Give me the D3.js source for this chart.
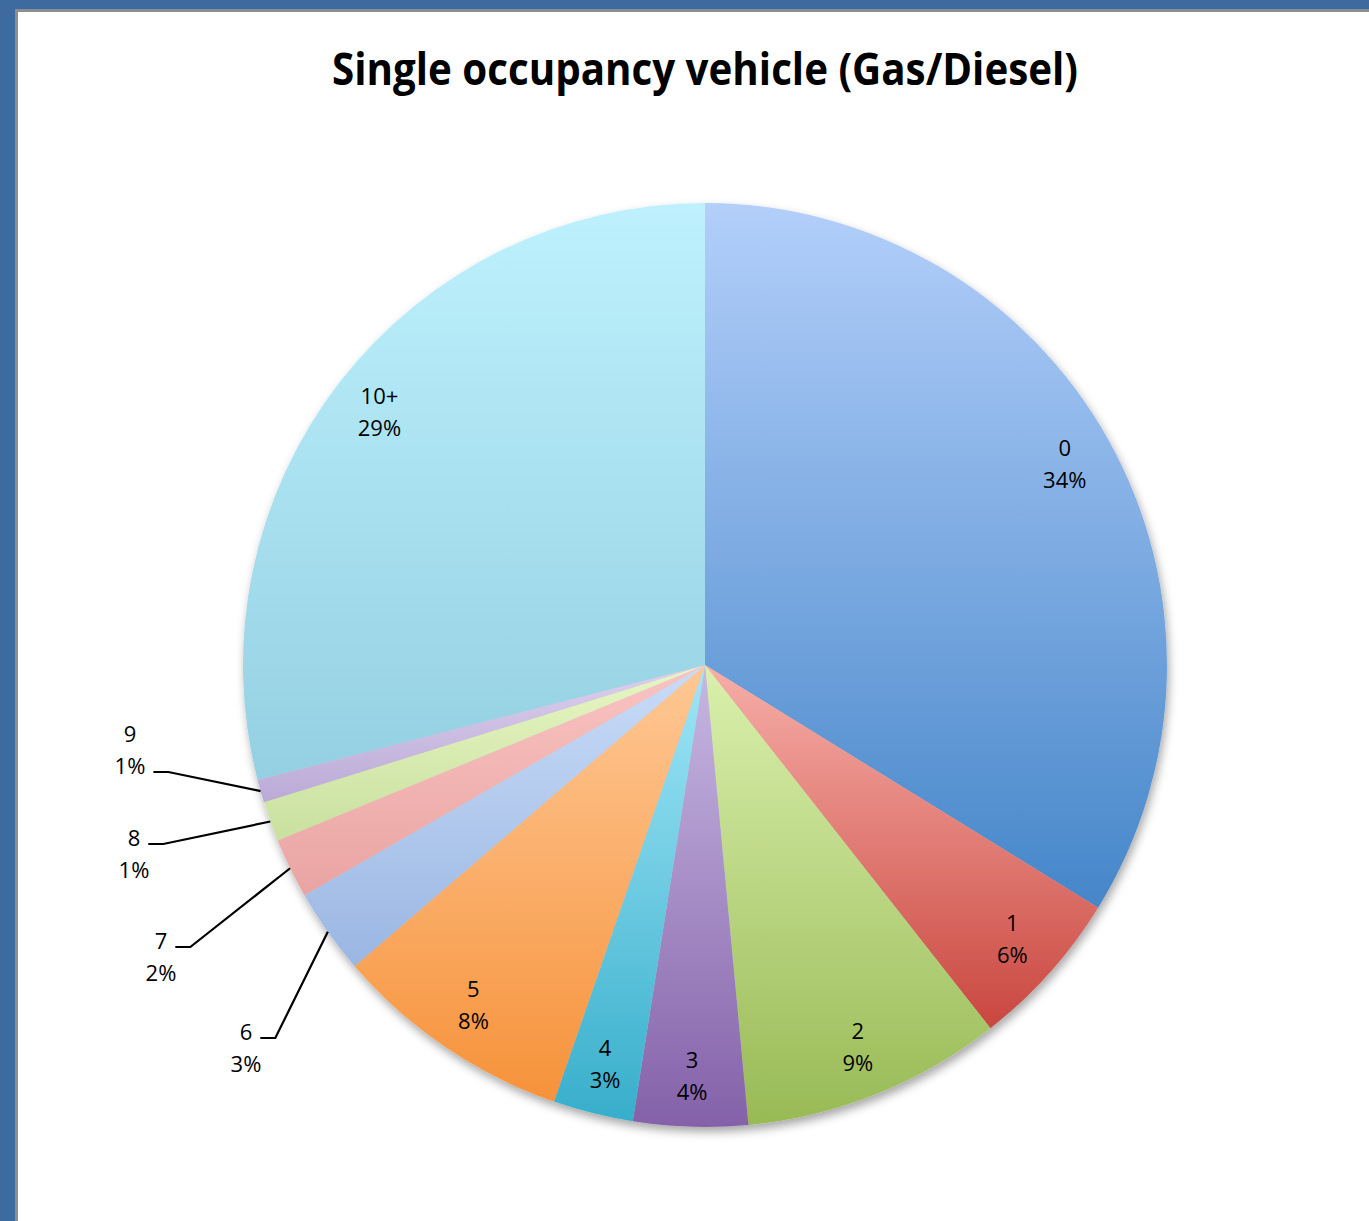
<!DOCTYPE html>
<html>
<head>
<meta charset="utf-8">
<script src="https://cdn.jsdelivr.net/npm/d3@7"></script>
<style>
  html, body { margin: 0; padding: 0; background: #3d6a9f; }
  svg { display: block; }
</style>
</head>
<body>
<div id="chart"></div>
<script>
// Data (share of respondents, %)
const categories = ["0", "1", "2", "3", "4", "5", "6", "7", "8", "9", "10+"];
const shares = [33.8, 5.6, 9.1, 4.0, 2.8, 8.4, 3.0, 2.1, 1.4, 0.8, 29.0];
const topColors = ["#b3cffa", "#f7aea8", "#daf0ad", "#c7b8e2", "#a0e6f7", "#ffc895",
                   "#c9dcf8", "#f9c4c2", "#e7f6c4", "#ddd0ee", "#bef1fd"];
const bottomColors = ["#4586c9", "#c9473f", "#98ba55", "#8461a9", "#37aecb", "#f6923a",
                      "#9ab6e2", "#e9a4a2", "#c9e09f", "#baaad6", "#94d0e2"];
const title = "Single occupancy vehicle (Gas/Diesel)";

// Labels that sit outside the pie with a leader line (label block centre, which row the leader meets)
const outsideLabels = {
    "9": { x: 130, y: 734, row: 1 },
    "8": { x: 134, y: 838, row: 0 },
    "7": { x: 161, y: 941, row: 0 },
    "6": { x: 246, y: 1032, row: 0 }
};

const W = 1369, H = 1221;
const cx = 705, cy = 665, radius = 462;

const svg = d3.select("#chart")
    .append("svg")
    .attr("width", W)
    .attr("height", H);

const defs = svg.append("defs");

// Blue frame with white page
svg.append("rect").attr("width", W).attr("height", H).attr("fill", "#3d6a9f");
svg.append("rect")
    .attr("x", 15).attr("y", 9)
    .attr("width", W - 15).attr("height", H - 9)
    .attr("fill", "#8e8e8e");
svg.append("rect")
    .attr("x", 18).attr("y", 12)
    .attr("width", W - 18).attr("height", H - 12)
    .attr("fill", "#ffffff");

// Title
svg.append("text")
    .attr("x", cx)
    .attr("y", 85)
    .attr("text-anchor", "middle")
    .attr("textLength", 746)
    .attr("lengthAdjust", "spacingAndGlyphs")
    .style("font-family", "'Open Sans', sans-serif")
    .style("font-weight", "bold")
    .style("font-size", "44px")
    .style("fill", "#000")
    .text(title);

// Soft shadow under the pie
const shadow = defs.append("filter")
    .attr("id", "shadow")
    .attr("x", "-10%").attr("y", "-10%")
    .attr("width", "120%").attr("height", "120%");
shadow.append("feDropShadow")
    .attr("dx", 2).attr("dy", 5)
    .attr("stdDeviation", 5)
    .attr("flood-color", "#000")
    .attr("flood-opacity", 0.35);

// One vertical gradient per slice
categories.forEach((c, i) => {
    const g = defs.append("linearGradient")
        .attr("id", "grad" + i)
        .attr("x1", 0).attr("y1", 0)
        .attr("x2", 0).attr("y2", 1);
    g.append("stop").attr("offset", "0%").attr("stop-color", topColors[i]);
    g.append("stop").attr("offset", "100%").attr("stop-color", bottomColors[i]);
});

const data = categories.map((c, i) => ({ category: c, value: shares[i], index: i }));

const pie = d3.pie()
    .sort(null)
    .value(d => d.value);

const arcs = pie(data);

const arc = d3.arc()
    .innerRadius(0)
    .outerRadius(radius);

const labelArc = d3.arc()
    .innerRadius(412)
    .outerRadius(412);

const g = svg.append("g")
    .attr("transform", `translate(${cx},${cy})`);

g.append("g")
    .attr("filter", "url(#shadow)")
    .selectAll("path")
    .data(arcs)
    .enter()
    .append("path")
    .attr("d", arc)
    .attr("fill", d => `url(#grad${d.data.index})`);

const fmt = v => Math.round(v) + "%";
const labelStyle = sel => sel
    .style("font-family", "'Open Sans', sans-serif")
    .style("font-size", "22px")
    .style("fill", "#000");

// Labels inside the slices
const inside = arcs.filter(d => !outsideLabels[d.data.category]);
const inLab = g.selectAll("text.inlab")
    .data(inside)
    .enter()
    .append("text")
    .attr("class", "inlab")
    .attr("text-anchor", "middle")
    .attr("transform", d => `translate(${labelArc.centroid(d)})`)
    .call(labelStyle);
inLab.append("tspan").attr("x", 0).attr("y", -16).attr("dy", "0.35em").text(d => d.data.category);
inLab.append("tspan").attr("x", 0).attr("y", 16).attr("dy", "0.35em").text(d => fmt(d.data.value));

// Labels outside with leader lines
const outside = arcs.filter(d => outsideLabels[d.data.category]);
outside.forEach(d => {
    const L = outsideLabels[d.data.category];
    const t = svg.append("text")
        .attr("text-anchor", "middle")
        .call(labelStyle);
    const first = t.append("tspan").attr("x", L.x).attr("y", L.y).attr("dy", "0.35em").text(d.data.category);
    const second = t.append("tspan").attr("x", L.x).attr("y", L.y + 32).attr("dy", "0.35em").text(fmt(d.data.value));

    const rowNode = (L.row === 0 ? first : second).node();
    const textRight = L.x + rowNode.getComputedTextLength() / 2;
    const ay = L.y + L.row * 32 + 6;
    const mid = (d.startAngle + d.endAngle) / 2;
    const ex = cx + radius * Math.sin(mid);
    const ey = cy - radius * Math.cos(mid);

    svg.append("path")
        .attr("d", d3.line()([[textRight + 8, ay], [textRight + 23, ay], [ex, ey]]))
        .attr("fill", "none")
        .attr("stroke", "#000")
        .attr("stroke-width", 2.2);
});
</script>
</body>
</html>
